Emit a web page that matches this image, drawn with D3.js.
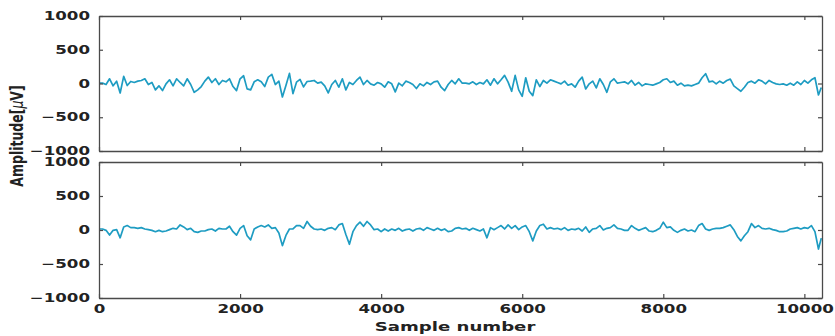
<!DOCTYPE html>
<html>
<head>
<meta charset="utf-8">
<script src="https://cdn.jsdelivr.net/npm/d3@7"></script>
<style>
  html, body { margin: 0; padding: 0; background: #fff; }
  svg { display: block; }
  text { font-family: "DejaVu Sans", sans-serif; font-weight: bold; fill: #222; }
</style>
</head>
<body>
<svg id="chart" width="835" height="336"></svg>
<script>
// Two EEG channels, one value every 50 samples (µV)
const sampleStep = 50;
const lastSample = 10240;

const channelTop = [
  5, 5, -15, 70, -35, 35, -140, 105, -30, 30,
  15, 35, 45, 70, -15, 15, -95, -35, -105, -5,
  55, -35, 70, 15, -35, 70, -15, -130, -95, -45,
  35, 95, 15, 70, -15, 45, 25, 70, -45, -105,
  70, 115, -80, -95, 25, 55, 25, -45, 95, 135,
  -15, 35, -200, -30, 150, -150, 20, 60, -50, 30,
  35, 45, 5, 20, -35, -140, -15, 45, -55, 70,
  -95, 15, -15, 45, 95, -15, 45, -5, -25, 15,
  -5, -55, 25, -5, -125, 5, -35, 35, 15, -15,
  -75, -5, -35, 15, -15, 25, 35, -55, -105, -15,
  45, -5, 70, 5, 5, -5, 25, -15, 15, -5,
  55, -25, 70, -5, 55, 120, 20, -115, 120, -95,
  -190, 85, -115, -180, 55, -45, 45, 5, 55, 35,
  15, -5, 35, -25, -5, -55, 35, 95, -80, -5,
  35, -65, 70, -15, -130, 25, 70, 5, 15, 25,
  -5, 45, -25, 15, -35, -5, -15, -25, -5, 15,
  55, 70, 15, 35, -25, 5, -35, -25, -35, -15,
  5, 85, 145, 25, 35, -5, 35, 5, 45, 65,
  -35, -75, -115, -55, 15, 35, 5, 55, 35, -5,
  45, 15, -5, -15, -5, -25, 5, -25, 25, -15,
  45, 5, 55, 85, -170, -60
];

const channelBottom = [
  15, 15, -5, -75, -5, 5, -115, 45, 65, 35,
  35, 25, 35, 15, 5, -5, -25, -5, -25, -15,
  5, 25, 15, 75, 45, 5, 25, -25, -35, -15,
  -15, 5, 15, -15, 25, 15, 15, 55, -25, -75,
  25, 65, -85, -145, 15, 45, 65, 45, 75, 25,
  35, -45, -230, -80, 15, 15, 65, 65, 25, 125,
  55, 15, 5, 15, -5, 25, 35, 5, 75, 95,
  -65, -210, -25, 65, 115, 55, 125, 75, 5, 15,
  -25, 15, -15, 15, -5, 25, -15, 5, 15, -15,
  15, 25, -5, 35, 15, -5, 25, -5, 15, -25,
  -15, 25, 35, 15, 25, -5, 25, 5, -15, 15,
  -115, 35, 5, 35, 65, 15, 75, 25, 65, 5,
  45, 65, -25, -160, -15, 65, 85, 15, 35, 15,
  25, 5, 35, -5, 15, 5, 25, -15, 45, -35,
  15, 25, 65, 0, 25, 35, 75, 25, 15, -5,
  -5, 65, 25, -5, 15, 35, -15, -25, -5, 25,
  115, 35, 45, -5, -35, -5, 15, -15, 0, -25,
  65, 95, 15, -5, 15, 25, 25, 35, 55, 75,
  5, -95, -160, -85, -25, 95, 35, 65, 25, 15,
  25, 5, -5, -25, -25, -15, 15, 25, 35, 15,
  35, 25, 65, -25, -280, -120
];

const xTicks = [0, 2000, 4000, 6000, 8000, 10000];
const yTicks = [-1000, -500, 0, 500, 1000];
const xLabel = "Sample number";

// sample index of each stored value
const sampleIndex = channelTop.map((_, i) => Math.min(i * sampleStep, lastSample));

const svg = d3.select("#chart");
const left = 99, right = 822;
const panels = [
  { top: 16, bottom: 151, values: channelTop, labelsX: false },
  { top: 162, bottom: 298, values: channelBottom, labelsX: true }
];
const stretch = 1.45;   // wide bold lettering
const fontSize = 11.5;
const plain = d3.format("d");

const x = d3.scaleLinear().domain([0, 10250]).range([left, right]);

panels.forEach((p, k) => {
  const y = d3.scaleLinear().domain([-1000, 1000]).range([p.bottom, p.top]);
  const g = svg.append("g");

  g.append("clipPath").attr("id", "clip" + k)
    .append("rect").attr("x", left).attr("y", p.top)
    .attr("width", right - left).attr("height", p.bottom - p.top);

  // signal trace
  const line = d3.line()
    .x((d, i) => x(sampleIndex[i]))
    .y(d => y(d))
    .curve(d3.curveLinear);
  g.append("path")
    .datum(p.values)
    .attr("clip-path", `url(#clip${k})`)
    .attr("fill", "none")
    .attr("stroke", "#1e9cc2")
    .attr("stroke-width", 1.7)
    .attr("stroke-linejoin", "round")
    .attr("d", line);

  // axes with inward ticks on all four sides
  const axL = g.append("g").attr("transform", `translate(${left},0)`)
    .call(d3.axisLeft(y).tickValues(yTicks).tickSizeInner(-4).tickSizeOuter(0)
      .tickPadding(9).tickFormat(plain));
  const axR = g.append("g").attr("transform", `translate(${right},0)`)
    .call(d3.axisRight(y).tickValues(yTicks).tickSizeInner(-4).tickSizeOuter(0).tickFormat(""));
  const axT = g.append("g").attr("transform", `translate(0,${p.top})`)
    .call(d3.axisTop(x).tickValues(xTicks).tickSizeInner(-4).tickSizeOuter(0).tickFormat(""));
  const axB = g.append("g").attr("transform", `translate(0,${p.bottom})`)
    .call(d3.axisBottom(x).tickValues(xTicks).tickSizeInner(-4).tickSizeOuter(0).tickPadding(7)
      .tickFormat(p.labelsX ? plain : ""));

  [axL, axR, axT, axB].forEach(a => {
    a.select(".domain").attr("stroke", "#4a4a4a").attr("stroke-width", 1.3);
    a.selectAll(".tick line").attr("stroke", "#4a4a4a").attr("stroke-width", 1.2);
    a.selectAll("text")
      .style("font-family", "'DejaVu Sans', sans-serif")
      .style("font-weight", "bold")
      .style("font-size", fontSize + "px")
      .attr("fill", "#222");
  });
  axL.selectAll("text")
    .attr("x", -9 / stretch)
    .attr("transform", `scale(${stretch},1)`);
  axB.selectAll("text")
    .attr("transform", `scale(${stretch},1)`);
});

// axis titles
svg.append("text")
  .attr("transform", `translate(455,331) scale(${stretch},1)`)
  .attr("text-anchor", "middle")
  .style("font-size", "12.5px")
  .text(xLabel);

const yTitle = svg.append("text")
  .attr("transform", `translate(23,136) scale(${stretch},1) rotate(-90)`)
  .attr("text-anchor", "middle")
  .style("font-size", "12.5px");
yTitle.append("tspan").text("Amplitude[");
yTitle.append("tspan").style("font-style", "italic").style("font-weight", "normal").text("μ");
yTitle.append("tspan").text("V]");
</script>
</body>
</html>
